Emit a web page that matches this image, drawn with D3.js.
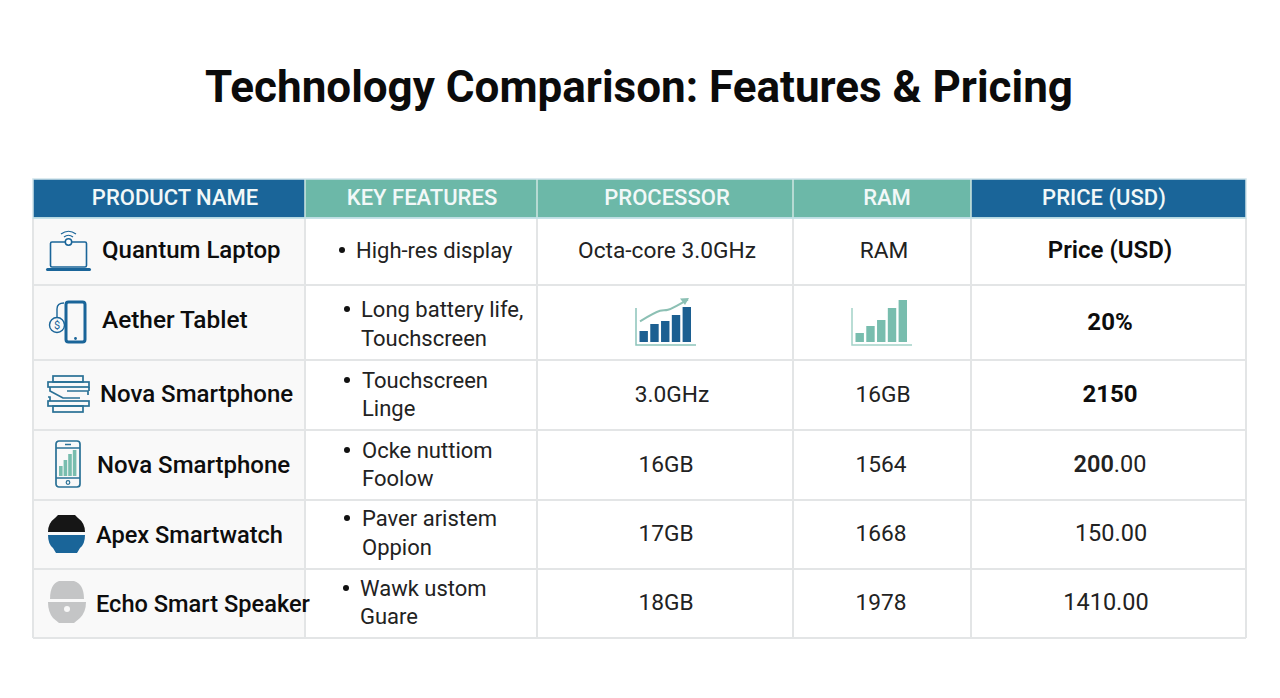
<!DOCTYPE html>
<html><head><meta charset="utf-8">
<script src="https://cdn.jsdelivr.net/npm/d3@7"></script>
<style>html,body{margin:0;padding:0;background:#fff}svg{display:block}text{font-family:Roboto,sans-serif}</style>
</head><body><svg id="c" width="1280" height="698"></svg>
<script>
const title = "Technology Comparison: Features & Pricing";
const headers = ["PRODUCT NAME","KEY FEATURES","PROCESSOR","RAM","PRICE (USD)"];
const headerFill = ["#1a6599","#6cb8a8","#6cb8a8","#6cb8a8","#1a6599"];
const headerCx = [175,422,667,887,1104];
const products = ["Quantum Laptop","Aether Tablet","Nova Smartphone","Nova Smartphone","Apex Smartwatch","Echo Smart Speaker"];
const productX = [102,102,100,97,96,96];
const productSize = [24,24.4,24,24,23.6,23.6];
const features = [["High-res display"],["Long battery life,","Touchscreen"],["Touchscreen","Linge"],["Ocke nuttiom","Foolow"],["Paver aristem","Oppion"],["Wawk ustom","Guare"]];
const featureX = [356,361,362,362,362,360];
const bulletX = [342,347,347,347,347,346];
const processors = ["Octa-core 3.0GHz",null,"3.0GHz","16GB","17GB","18GB"];
const processorCx = [667,null,672,666,666,666];
const ram = ["RAM",null,"16GB","1564","1668","1978"];
const ramCx = [884,null,883,881,881,881];
const prices = [["Price (USD)",""],["20%",""],["2150",""],["200",".00"],["",  "150.00"],["","1410.00"]];
const priceWeight = [600,700,700,600,400,400];
const priceCx = [1110,1110,1110,1110,1111,1106];
const colEdges = [33,305,537,793,971,1246];
const rowEdges = [218,285,360,430,500,569,638];
const miniProcessor = [11,18,21,27,35];
const miniRam = [9,16,22,34,42];
const trend = [[0,0],[20,10.5],[28,11.5],[48,22]];

const svg = d3.select("#c");
svg.append("text").attr("x",639).attr("y",102).attr("text-anchor","middle")
  .attr("font-size",44).attr("font-weight",700).attr("fill","#0b0b0b").text(title);

const headerTop = 179;
headers.forEach((h,i)=>{
  svg.append("rect").attr("x",colEdges[i]).attr("y",headerTop).attr("width",colEdges[i+1]-colEdges[i]).attr("height",rowEdges[0]-headerTop).attr("fill",headerFill[i]);
  svg.append("text").attr("x",headerCx[i]).attr("y",205).attr("text-anchor","middle").attr("font-size",22).attr("font-weight",500).attr("fill","#f2f8f8").text(h);
});
svg.append("rect").attr("x",colEdges[0]).attr("y",rowEdges[0]).attr("width",colEdges[1]-colEdges[0]).attr("height",rowEdges[6]-rowEdges[0]).attr("fill","#f9f9f9");
const line="#e3e5e6";
rowEdges.forEach(y=>{ if(y!==rowEdges[0]) svg.append("line").attr("x1",colEdges[0]).attr("x2",colEdges[5]).attr("y1",y).attr("y2",y).attr("stroke",line).attr("stroke-width",2);});
colEdges.forEach(x=>{ svg.append("line").attr("x1",x).attr("x2",x).attr("y1",rowEdges[0]).attr("y2",rowEdges[6]).attr("stroke",line).attr("stroke-width",2);});
colEdges.slice(1,-1).forEach(x=>{ svg.append("line").attr("x1",x).attr("x2",x).attr("y1",headerTop).attr("y2",rowEdges[0]).attr("stroke","#cfe6e2").attr("stroke-width",1.5);});
svg.append("rect").attr("x",colEdges[0]).attr("y",headerTop).attr("width",colEdges[5]-colEdges[0]).attr("height",rowEdges[0]-headerTop).attr("fill","none").attr("stroke","#cfe3ea").attr("stroke-width",1.5);
svg.append("line").attr("x1",colEdges[0]).attr("x2",colEdges[5]).attr("y1",rowEdges[0]).attr("y2",rowEdges[0]).attr("stroke","#bfe0e6").attr("stroke-width",1.5);

const nameY=[258,328,402,473,543,612];
const f1Y=[258,317,388,458,526,596];
const f2Y=[null,346,416,486,555,624];
const midY=[258,null,402,472,541,610];
const priceY=[258,330,402,472,541,610];

products.forEach((p,i)=>{
  svg.append("text").attr("x",productX[i]).attr("y",nameY[i]).attr("font-size",productSize[i]).attr("font-weight",500).attr("fill","#0d0d0d").text(p);
  svg.append("circle").attr("cx",bulletX[i]).attr("cy",f1Y[i]-8).attr("r",3).attr("fill","#111");
  svg.append("text").attr("x",featureX[i]).attr("y",f1Y[i]).attr("font-size",22).attr("fill","#222").text(features[i][0]);
  if(features[i][1]) svg.append("text").attr("x",featureX[i]).attr("y",f2Y[i]).attr("font-size",22).attr("fill","#222").text(features[i][1]);
  if(processors[i]) svg.append("text").attr("x",processorCx[i]).attr("y",midY[i]).attr("text-anchor","middle").attr("font-size",22.7).attr("fill","#222").text(processors[i]);
  if(ram[i]) svg.append("text").attr("x",ramCx[i]).attr("y",midY[i]).attr("text-anchor","middle").attr("font-size",22.7).attr("fill","#222").text(ram[i]);
  const pt=svg.append("text").attr("x",priceCx[i]).attr("y",priceY[i]).attr("text-anchor","middle").attr("font-size",i<3?24:23.5).attr("fill",i<3?"#0d0d0d":"#222");
  if(prices[i][0]) pt.append("tspan").attr("font-weight",priceWeight[i]).text(prices[i][0]);
  if(prices[i][1]) pt.append("tspan").attr("font-weight",400).text(prices[i][1]);
});

function mini(x0,x1,base,axisTop,vals,fill,axisCol){
  const g=svg.append("g");
  const xs=d3.scaleBand().domain(d3.range(vals.length)).range([x0+3.5,x1-5]).paddingInner(0.22).paddingOuter(0);
  const ys=d3.scaleLinear().domain([0,42]).range([base-3,base-45]);
  g.selectAll("rect").data(vals).join("rect").attr("x",(d,i)=>xs(i)).attr("width",xs.bandwidth()).attr("y",d=>ys(d)).attr("height",d=>ys(0)-ys(d)).attr("fill",fill);
  g.append("path").attr("d",`M${x0},${axisTop}V${base}H${x1}`).attr("fill","none").attr("stroke",axisCol).attr("stroke-width",1.5);
}
mini(636,696,345,308,miniProcessor,"#1c5f91","#8cc4bb");
mini(852,912,345,308,miniRam,"#78bdae","#a3d2c8");
const tx=d3.scaleLinear().domain([0,48]).range([640,688]);
const ty=d3.scaleLinear().domain([0,22]).range([321.3,299.3]);
svg.append("path").attr("d",d3.line().x(d=>tx(d[0])).y(d=>ty(d[1])).curve(d3.curveCatmullRom)(trend)).attr("fill","none").attr("stroke","#8cc0b4").attr("stroke-width",2);
svg.append("path").attr("d","M680,298.5L689,298L685,305Z").attr("fill","#8cc0b4");

const blue="#1a6599";
const icon=(x,y)=>svg.append("g").attr("transform",`translate(${x},${y})`);
// laptop
let a=icon(46,230);
a.append("rect").attr("x",4.5).attr("y",12).attr("width",36).attr("height",25).attr("rx",1.5).attr("fill","none").attr("stroke",blue).attr("stroke-width",1.6);
a.append("rect").attr("x",0).attr("y",38).attr("width",45).attr("height",3).attr("rx",1.5).attr("fill",blue);
a.append("circle").attr("cx",22.5).attr("cy",12).attr("r",3.2).attr("fill","#fff").attr("stroke",blue).attr("stroke-width",1.5);
a.append("path").attr("d","M15,4Q22.5,-1.5 30,4M18,7Q22.5,3.5 27,7").attr("fill","none").attr("stroke",blue).attr("stroke-width",1.2);
// tablet with coin
a=icon(48,301);
a.append("rect").attr("x",18).attr("y",1).attr("width",19).attr("height",40).attr("rx",2.5).attr("fill","none").attr("stroke",blue).attr("stroke-width",3);
a.append("circle").attr("cx",27.5).attr("cy",37.5).attr("r",1.4).attr("fill",blue);
a.append("circle").attr("cx",9).attr("cy",24).attr("r",7.5).attr("fill","none").attr("stroke",blue).attr("stroke-width",1.4);
a.append("text").attr("x",9).attr("y",28).attr("text-anchor","middle").attr("font-size",11).attr("fill",blue).text("$");
a.append("path").attr("d","M9,16V8Q9,2 16,2").attr("fill","none").attr("stroke",blue).attr("stroke-width",1.4);
// stacked layers
a=icon(47,375);
const st=a.append("g").attr("fill","none").attr("stroke","#2a7196").attr("stroke-width",1.7);
st.append("rect").attr("x",6).attr("y",1).attr("width",30).attr("height",6);
st.append("rect").attr("x",1).attr("y",7).attr("width",41).attr("height",5);
st.append("rect").attr("x",1).attr("y",26).attr("width",41).attr("height",5);
st.append("rect").attr("x",6).attr("y",31).attr("width",30).attr("height",6);
st.append("path").attr("d","M3,12V16L16,23H33M20,16H41V20M3,26V22H1M42,12V16");
// phone with bars
a=icon(55,440);
a.append("rect").attr("x",1).attr("y",1).attr("width",24).attr("height",46).attr("rx",3).attr("fill","none").attr("stroke","#2a7196").attr("stroke-width",1.7);
a.append("path").attr("d","M1,8H25M1,38H25M10,4.5H16").attr("fill","none").attr("stroke","#2a7196").attr("stroke-width",1.3);
a.append("circle").attr("cx",13).attr("cy",42.5).attr("r",1.8).attr("fill","none").attr("stroke","#2a7196").attr("stroke-width",1.2);
a.selectAll("rect.b").data([10,16,22,26]).join("rect").attr("class","b").attr("x",(d,i)=>4+i*4.6).attr("width",3.6).attr("y",d=>36-d).attr("height",d=>d).attr("fill","#78bdae");
// black/blue puck
a=icon(48,514);
a.append("path").attr("d","M10,1H27L30,4Q37,9 37,18H0Q0,9 7,4Z").attr("fill","#161616");
a.append("path").attr("d","M0,21H37Q37,30 32,34L29,39H8L5,34Q0,30 0,21Z").attr("fill",blue);
// grey speaker
a=icon(47,580);
a.append("path").attr("d","M12,1H27Q37,4 37,19H3Q3,4 12,1Z").attr("fill","#c4c5c6");
a.append("path").attr("d","M1,22H39Q39,32 33,38L27,43H12L6,38Q1,32 1,22Z").attr("fill","#c4c5c6");
a.append("circle").attr("cx",20).attr("cy",29).attr("r",3).attr("fill","#f8f8f8");
</script></body></html>
